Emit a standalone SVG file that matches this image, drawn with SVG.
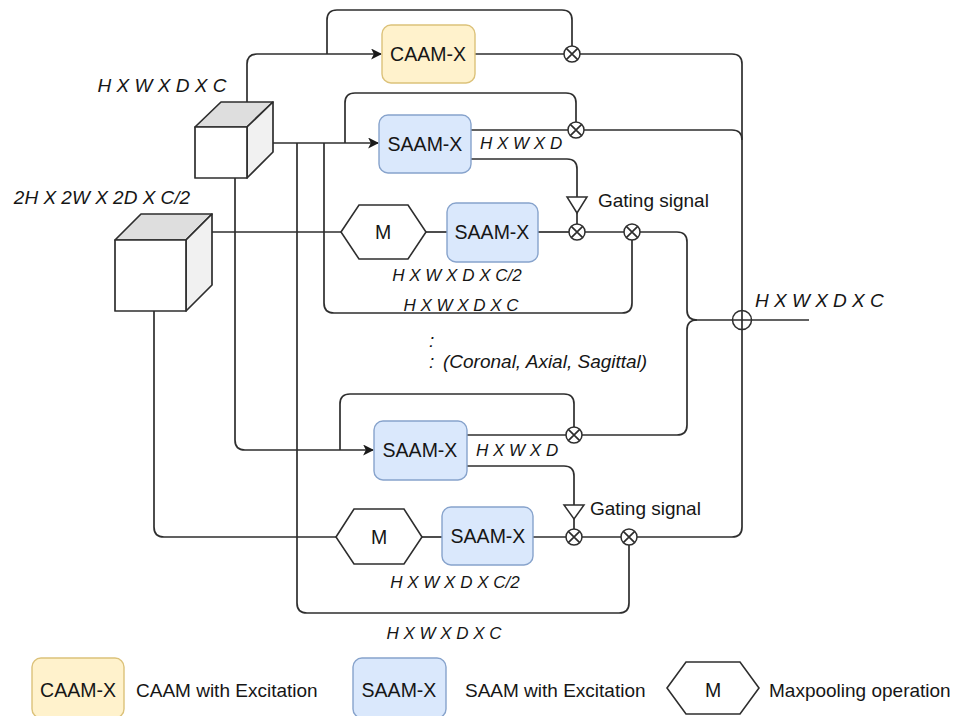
<svg xmlns="http://www.w3.org/2000/svg" width="957" height="716" viewBox="0 0 957 716">
  <defs>
    <marker id="arrow" viewBox="0 0 10 10" refX="9" refY="5" markerWidth="11" markerHeight="11" markerUnits="userSpaceOnUse" orient="auto">
      <path d="M0,0 L10,5 L0,10 L2.5,5 Z" fill="#1a1a1a"/>
    </marker>
    <style>
      .wire { fill: none; stroke: #2e2e2e; stroke-width: 1.7; }
      .caam { fill: #fff2cc; stroke: #dcc27a; stroke-width: 1.4; }
      .saam { fill: #dae8fc; stroke: #87a3cc; stroke-width: 1.4; }
      .hex { fill: #fff; stroke: #2e2e2e; stroke-width: 1.6; }
      .op { fill: #fff; stroke: #2e2e2e; stroke-width: 1.5; }
      .tri { fill: #fff; stroke: #2e2e2e; stroke-width: 1.5; }
      .front { fill: #fff; stroke: #2e2e2e; stroke-width: 1.7; stroke-linejoin: round; }
      .top { fill: #dedede; stroke: #2e2e2e; stroke-width: 1.7; stroke-linejoin: round; }
      .side { fill: #f1f1f1; stroke: #2e2e2e; stroke-width: 1.7; stroke-linejoin: round; }
      text { font-family: "Liberation Sans", Arial, Helvetica, sans-serif; fill: #161616; }
      .lbl { font-size: 19.5px; text-anchor: middle; }
      .dim { font-size: 19px; font-style: italic; }
      .dims { font-size: 17px; font-style: italic; }
      .note { font-size: 19px; }
    </style>
  </defs>

  <!-- connectors -->
  <g id="connectors">
    <!-- feature map H x W x D x C to channel branch -->
    <path class="wire" d="M247,102 V64 Q247,54 257,54 H381" marker-end="url(#arrow)"/>
    <path class="wire" d="M327,54 V20 Q327,10 337,10 H562 Q572,10 572,20 V46"/>
    <path class="wire" d="M475,54 H564"/>
    <path class="wire" d="M580,54 H732 Q742,54 742,64 V311"/>

    <!-- first spatial branch -->
    <path class="wire" d="M273,143 H378" marker-end="url(#arrow)"/>
    <path class="wire" d="M345,143 V103 Q345,93 355,93 H566 Q576,93 576,103 V122"/>
    <path class="wire" d="M471,130 H568"/>
    <path class="wire" d="M584,130 H732 Q742,130 742,140"/>
    <path class="wire" d="M471,159 H567 Q577,159 577,169 V197"/>
    <path class="wire" d="M577,213 V224"/>

    <!-- skip input 2H x 2W x 2D x C/2 -->
    <path class="wire" d="M212,232 H341"/>
    <path class="wire" d="M426,232 H447"/>
    <path class="wire" d="M538,232 H569"/>
    <path class="wire" d="M585,232 H624"/>
    <path class="wire" d="M324,143 V303 Q324,313 334,313 H622 Q632,313 632,303 V240"/>
    <path class="wire" d="M640,232 H677 Q687,232 687,242 V310 Q687,320 697,320 H733"/>
    <path class="wire" d="M581,435 H677 Q687,435 687,425 V330 Q687,320 697,320"/>

    <!-- second spatial branch -->
    <path class="wire" d="M297,143 V603 Q297,613 307,613 H619 Q629,613 629,603 V545"/>
    <path class="wire" d="M235,178 V440 Q235,450 245,450 H373" marker-end="url(#arrow)"/>
    <path class="wire" d="M340,450 V404 Q340,394 350,394 H564 Q574,394 574,404 V427"/>
    <path class="wire" d="M467,435 H566"/>
    <path class="wire" d="M467,466 H564 Q574,466 574,476 V505"/>
    <path class="wire" d="M574,519 V529"/>
    <path class="wire" d="M154,311 V527 Q154,537 164,537 H336"/>
    <path class="wire" d="M422,537 H442"/>
    <path class="wire" d="M533,537 H566"/>
    <path class="wire" d="M582,537 H621"/>
    <path class="wire" d="M637,537 H732 Q742,537 742,527 V329"/>

    <!-- output -->
    <path class="wire" d="M751,320 H809"/>
  </g>

  <!-- input feature maps -->
  <g id="cube-hwdc">
    <polygon class="top" points="195,127 221,102 273,102 247,127"/>
    <polygon class="side" points="247,127 273,102 273,152 247,178"/>
    <rect class="front" x="195" y="127" width="52" height="51"/>
    <text class="dim" x="162" y="92" text-anchor="middle">H X W X D X C</text>
  </g>
  <g id="cube-2h2w2d">
    <polygon class="top" points="115,240 141,214 212,214 186,240"/>
    <polygon class="side" points="186,240 212,214 212,285 186,311"/>
    <rect class="front" x="115" y="240" width="71" height="71"/>
    <text class="dim" x="102" y="204" text-anchor="middle">2H X 2W X 2D X C/2</text>
  </g>

  <!-- attention modules -->
  <g id="caam">
    <rect class="caam" x="382" y="25" width="93" height="58" rx="9"/>
    <text class="lbl" x="428" y="61">CAAM-X</text>
  </g>
  <g id="saam-1">
    <rect class="saam" x="379" y="115" width="92" height="58" rx="9"/>
    <text class="lbl" x="425" y="151">SAAM-X</text>
    <text class="dims" x="480" y="149">H X W X D</text>
  </g>
  <g id="maxpool-1">
    <polygon class="hex" points="341,232 359,205 408,205 426,232 408,259 359,259"/>
    <text class="lbl" x="383" y="239">M</text>
  </g>
  <g id="saam-1b">
    <rect class="saam" x="447" y="203" width="91" height="59" rx="9"/>
    <text class="lbl" x="492" y="239">SAAM-X</text>
    <text class="dims" x="457" y="281" text-anchor="middle">H X W X D X C/2</text>
    <text class="dims" x="461" y="311" text-anchor="middle">H X W X D X C</text>
  </g>
  <g id="saam-2">
    <rect class="saam" x="374" y="421" width="93" height="59" rx="9"/>
    <text class="lbl" x="420" y="457">SAAM-X</text>
    <text class="dims" x="476" y="456">H X W X D</text>
  </g>
  <g id="maxpool-2">
    <polygon class="hex" points="336,537 354,509 404,509 422,537 404,564 354,564"/>
    <text class="lbl" x="379" y="544">M</text>
  </g>
  <g id="saam-2b">
    <rect class="saam" x="442" y="507" width="91" height="58" rx="9"/>
    <text class="lbl" x="488" y="543">SAAM-X</text>
    <text class="dims" x="455" y="588" text-anchor="middle">H X W X D X C/2</text>
    <text class="dims" x="444" y="639" text-anchor="middle">H X W X D X C</text>
  </g>

  <!-- gating signals -->
  <g id="gate-1">
    <polygon class="tri" points="567,197 587,197 577,213"/>
    <text class="note" x="598" y="207">Gating signal</text>
  </g>
  <g id="gate-2">
    <polygon class="tri" points="564,505 584,505 574,519"/>
    <text class="note" x="590" y="515">Gating signal</text>
  </g>

  <!-- element-wise products -->
  <g id="mul-caam">
    <circle class="op" cx="572" cy="54" r="8"/>
    <path class="wire" d="M566.3,48.3 L577.7,59.7 M577.7,48.3 L566.3,59.7" stroke-width="1.3"/>
  </g>
  <g id="mul-saam-1">
    <circle class="op" cx="576" cy="130" r="8"/>
    <path class="wire" d="M570.3,124.3 L581.7,135.7 M581.7,124.3 L570.3,135.7" stroke-width="1.3"/>
  </g>
  <g id="mul-gate-1">
    <circle class="op" cx="577" cy="232" r="8"/>
    <path class="wire" d="M571.3,226.3 L582.7,237.7 M582.7,226.3 L571.3,237.7" stroke-width="1.3"/>
  </g>
  <g id="mul-skip-1">
    <circle class="op" cx="632" cy="232" r="8"/>
    <path class="wire" d="M626.3,226.3 L637.7,237.7 M637.7,226.3 L626.3,237.7" stroke-width="1.3"/>
  </g>
  <g id="mul-saam-2">
    <circle class="op" cx="574" cy="435" r="8"/>
    <path class="wire" d="M568.3,429.3 L579.7,440.7 M579.7,429.3 L568.3,440.7" stroke-width="1.3"/>
  </g>
  <g id="mul-gate-2">
    <circle class="op" cx="574" cy="537" r="8"/>
    <path class="wire" d="M568.3,531.3 L579.7,542.7 M579.7,531.3 L568.3,542.7" stroke-width="1.3"/>
  </g>
  <g id="mul-skip-2">
    <circle class="op" cx="629" cy="537" r="8"/>
    <path class="wire" d="M623.3,531.3 L634.7,542.7 M634.7,531.3 L623.3,542.7" stroke-width="1.3"/>
  </g>

  <!-- summation and output -->
  <g id="sum">
    <circle class="op" cx="742" cy="320" r="9.5"/>
    <path class="wire" d="M732.5,320 H751.5 M742,310.5 V329.5" stroke-width="1.4"/>
    <text class="dim" x="755" y="307">H X W X D X C</text>
  </g>

  <!-- repeated views -->
  <g id="views">
    <text class="dim" x="429" y="347">:</text>
    <text class="dim" x="429" y="368">:</text>
    <text class="dim" x="443" y="368">(Coronal, Axial, Sagittal)</text>
  </g>

  <!-- legend -->
  <g id="legend">
    <rect class="caam" x="32" y="658" width="92" height="60" rx="9"/>
    <text class="lbl" x="78" y="697">CAAM-X</text>
    <text class="note" x="136" y="697">CAAM with Excitation</text>
    <rect class="saam" x="353" y="658" width="93" height="60" rx="9"/>
    <text class="lbl" x="399" y="697">SAAM-X</text>
    <text class="note" x="465" y="697">SAAM with Excitation</text>
    <polygon class="hex" points="667,688 686,662 740,662 759,688 740,714 686,714"/>
    <text class="lbl" x="713" y="697">M</text>
    <text class="note" x="769" y="697">Maxpooling operation</text>
  </g>
</svg>
